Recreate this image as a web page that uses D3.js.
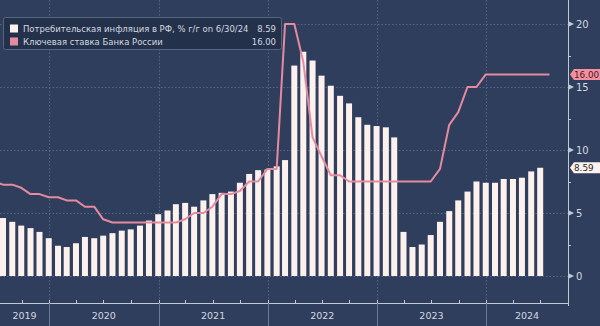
<!DOCTYPE html>
<html>
<head>
<meta charset="utf-8">
<script src="https://cdn.jsdelivr.net/npm/d3@7/dist/d3.min.js"></script>
<style>
  html, body { margin: 0; padding: 0; background: #2f3e5c; }
  svg { display: block; }
  text { font-family: "DejaVu Sans", sans-serif; }
</style>
</head>
<body>
<svg id="chart" width="600" height="326"></svg>
<script>
// Monthly CPI, % y/y (Jul 2019 – Jun 2024), month-end dates
const cpiStart = [2019, 6]; // year, month index (0 = Jan)
const cpiValues = [
  4.6, 4.3, 4.0, 3.8, 3.5, 3.0,
  2.4, 2.3, 2.6, 3.1, 3.0, 3.2, 3.4, 3.6, 3.7, 4.0, 4.4, 4.9,
  5.2, 5.7, 5.8, 5.5, 6.0, 6.5, 6.6, 6.7, 7.4, 8.1, 8.4, 8.45,
  8.7, 9.2, 16.7, 17.8, 17.1, 15.9, 15.1, 14.3, 13.7, 12.6, 12.0, 11.9,
  11.8, 11.0, 3.5, 2.3, 2.5, 3.25, 4.3, 5.15, 6.0, 6.7, 7.5, 7.4,
  7.4, 7.7, 7.7, 7.8, 8.3, 8.59
];

// Key rate of the Bank of Russia, month-end (Jun 2019 – Jul 2024)
const rateStart = [2019, 5];
const rateValues = [
  7.5, 7.25, 7.25, 7.0, 6.5, 6.5, 6.25,
  6.25, 6.0, 6.0, 5.5, 5.5, 4.5, 4.25, 4.25, 4.25, 4.25, 4.25, 4.25,
  4.25, 4.25, 4.5, 5.0, 5.0, 5.5, 6.5, 6.5, 6.75, 7.5, 7.5, 8.5,
  8.5, 20, 20, 17, 11, 9.5, 8, 8, 7.5, 7.5, 7.5, 7.5,
  7.5, 7.5, 7.5, 7.5, 7.5, 7.5, 8.5, 12, 13, 15, 15, 16,
  16, 16, 16, 16, 16, 16, 16
];

const yTicks = [0, 5, 10, 15, 20];
const yMinor = [2.5, 7.5, 12.5, 17.5];
const years = [2019, 2020, 2021, 2022, 2023, 2024];

const legendCpi = "Потребительская инфляция в РФ, % г/г on 6/30/24";
const legendRate = "Ключевая ставка Банка России";
const lastCpi = "8.59";
const lastRate = "16.00";

const monthEnd = (start, i) => new Date(start[0], start[1] + i + 1, 0);
const cpi = cpiValues.map((v, i) => ({ date: monthEnd(cpiStart, i), value: v }));
const rate = rateValues.map((v, i) => ({ date: monthEnd(rateStart, i), value: v }));

const colors = {
  bg: "#2f3e5c",
  grid: "#55668a",
  axis: "#c3c9d4",
  text: "#d3d8e0",
  bar: "#fcf1ed",
  line: "#e58a9f",
  legendBg: "#24314a",
  legendBorder: "#56657f"
};

const plotRight = 568, axisY = 303;
const svg = d3.select("#chart");

svg.append("rect").attr("width", 600).attr("height", 326).attr("fill", colors.bg);

const x = d3.scaleTime()
  .domain([new Date(2019, 6, 21), new Date(2024, 9, 1)])
  .range([0, plotRight]);
const y = d3.scaleLinear().domain([0, 20]).range([276, 24]);

svg.append("clipPath").attr("id", "plot")
  .append("rect").attr("x", 0).attr("y", 0).attr("width", plotRight).attr("height", axisY);

// grid
const grid = svg.append("g").attr("stroke", colors.grid).attr("stroke-dasharray", "1.5,2").attr("stroke-width", 1);
grid.selectAll("line.h").data(yTicks).join("line")
  .attr("x1", 0).attr("x2", plotRight)
  .attr("y1", d => Math.round(y(d)) + 0.5).attr("y2", d => Math.round(y(d)) + 0.5);
grid.selectAll("line.v").data(years.slice(1)).join("line")
  .attr("x1", d => Math.round(x(new Date(d, 0, 1))) + 0.5)
  .attr("x2", d => Math.round(x(new Date(d, 0, 1))) + 0.5)
  .attr("y1", 0).attr("y2", axisY);

const plot = svg.append("g").attr("clip-path", "url(#plot)");

// CPI bars
const barW = 6;
plot.selectAll("rect.bar").data(cpi).join("rect")
  .attr("class", "bar")
  .attr("x", d => x(d.date) - barW / 2)
  .attr("width", barW)
  .attr("y", d => y(d.value))
  .attr("height", d => y(0) - y(d.value))
  .attr("fill", colors.bar);

// key rate line
plot.append("path").datum(rate)
  .attr("fill", "none")
  .attr("stroke", colors.line)
  .attr("stroke-width", 2)
  .attr("stroke-linejoin", "round")
  .attr("d", d3.line().x(d => x(d.date)).y(d => y(d.value)));

// right axis
const ax = svg.append("g");
ax.append("line").attr("x1", plotRight + 0.5).attr("x2", plotRight + 0.5)
  .attr("y1", 0).attr("y2", axisY).attr("stroke", colors.axis);
ax.selectAll("path.tick").data(yTicks).join("path")
  .attr("d", d => `M${plotRight},${y(d) - 3}L${plotRight + 6},${y(d)}L${plotRight},${y(d) + 3}Z`)
  .attr("fill", colors.axis);
ax.selectAll("line.minor").data(yMinor).join("line")
  .attr("x1", plotRight).attr("x2", plotRight + 3)
  .attr("y1", d => Math.round(y(d)) + 0.5).attr("y2", d => Math.round(y(d)) + 0.5)
  .attr("stroke", colors.axis);
ax.selectAll("text").data(yTicks).join("text")
  .attr("x", plotRight + 8).attr("y", d => y(d)).attr("dy", "0.36em")
  .attr("font-size", 10).attr("fill", colors.text)
  .text(d => d);

// bottom axis
const bx = svg.append("g");
bx.append("line").attr("x1", 0).attr("x2", plotRight + 1)
  .attr("y1", axisY + 0.5).attr("y2", axisY + 0.5).attr("stroke", colors.axis);
const quarters = d3.timeMonth.every(3).range(new Date(2019, 6, 1), new Date(2024, 9, 2));
bx.selectAll("line.q").data(quarters).join("line")
  .attr("x1", d => Math.round(x(d)) + 0.5).attr("x2", d => Math.round(x(d)) + 0.5)
  .attr("y1", axisY - 3).attr("y2", axisY).attr("stroke", colors.axis);
bx.selectAll("line.sep").data(years.slice(1)).join("line")
  .attr("x1", d => Math.round(x(new Date(d, 0, 1))) + 0.5)
  .attr("x2", d => Math.round(x(new Date(d, 0, 1))) + 0.5)
  .attr("y1", axisY).attr("y2", 326).attr("stroke", "#6b7a95");
bx.append("line").attr("x1", plotRight + 0.5).attr("x2", plotRight + 0.5)
  .attr("y1", axisY).attr("y2", axisY + 3).attr("stroke", colors.axis);
bx.selectAll("text").data(years).join("text")
  .attr("x", d => {
    const a = Math.max(0, x(new Date(d, 0, 1)));
    const b = Math.min(plotRight, x(new Date(d + 1, 0, 1)));
    return (a + b) / 2;
  })
  .attr("y", 319).attr("text-anchor", "middle")
  .attr("font-size", 9.5).attr("fill", colors.text)
  .text(d => d);

// last-value tags
function tag(value, label, fill, textFill) {
  const cy = y(value);
  const g = svg.append("g");
  g.append("path")
    .attr("d", `M${plotRight + 2},${cy}L${plotRight + 6},${cy - 5.5}H600V${cy + 5.5}H${plotRight + 6}Z`)
    .attr("fill", fill);
  g.append("text").attr("x", plotRight + 6).attr("y", cy).attr("dy", "0.36em")
    .attr("font-family", "'Liberation Sans', sans-serif")
    .attr("font-size", 8.8).attr("fill", textFill).text(label);
}
tag(16, lastRate, "#f2909f", "#4a1a24");
tag(8.59, lastCpi, "#fcf1ed", "#2a2a2a");

// legend
const lg = svg.append("g");
lg.append("rect").attr("x", 3.5).attr("y", 17.5).attr("width", 278).attr("height", 32)
  .attr("rx", 2).attr("fill", colors.legendBg).attr("stroke", colors.legendBorder);
const rows = [
  { name: legendCpi, val: lastCpi, color: colors.bar },
  { name: legendRate, val: lastRate, color: colors.line }
];
// size the legend font so the long series name spans x = 23 … 249
const probe = lg.append("text").attr("font-size", 10).text(legendCpi);
const legendFont = Math.min(9.5, 10 * 226 / probe.node().getComputedTextLength());
probe.remove();
rows.forEach((r, i) => {
  const cy = 28.5 + i * 13;
  lg.append("rect").attr("x", 10).attr("y", cy - 4).attr("width", 8).attr("height", 8).attr("fill", r.color);
  lg.append("text").attr("x", 23).attr("y", cy).attr("dy", "0.36em")
    .attr("font-size", legendFont).attr("fill", colors.text).text(r.name);
  lg.append("text").attr("x", 276).attr("y", cy).attr("dy", "0.36em").attr("text-anchor", "end")
    .attr("font-size", legendFont).attr("fill", colors.text).text(r.val);
});
</script>
</body>
</html>
